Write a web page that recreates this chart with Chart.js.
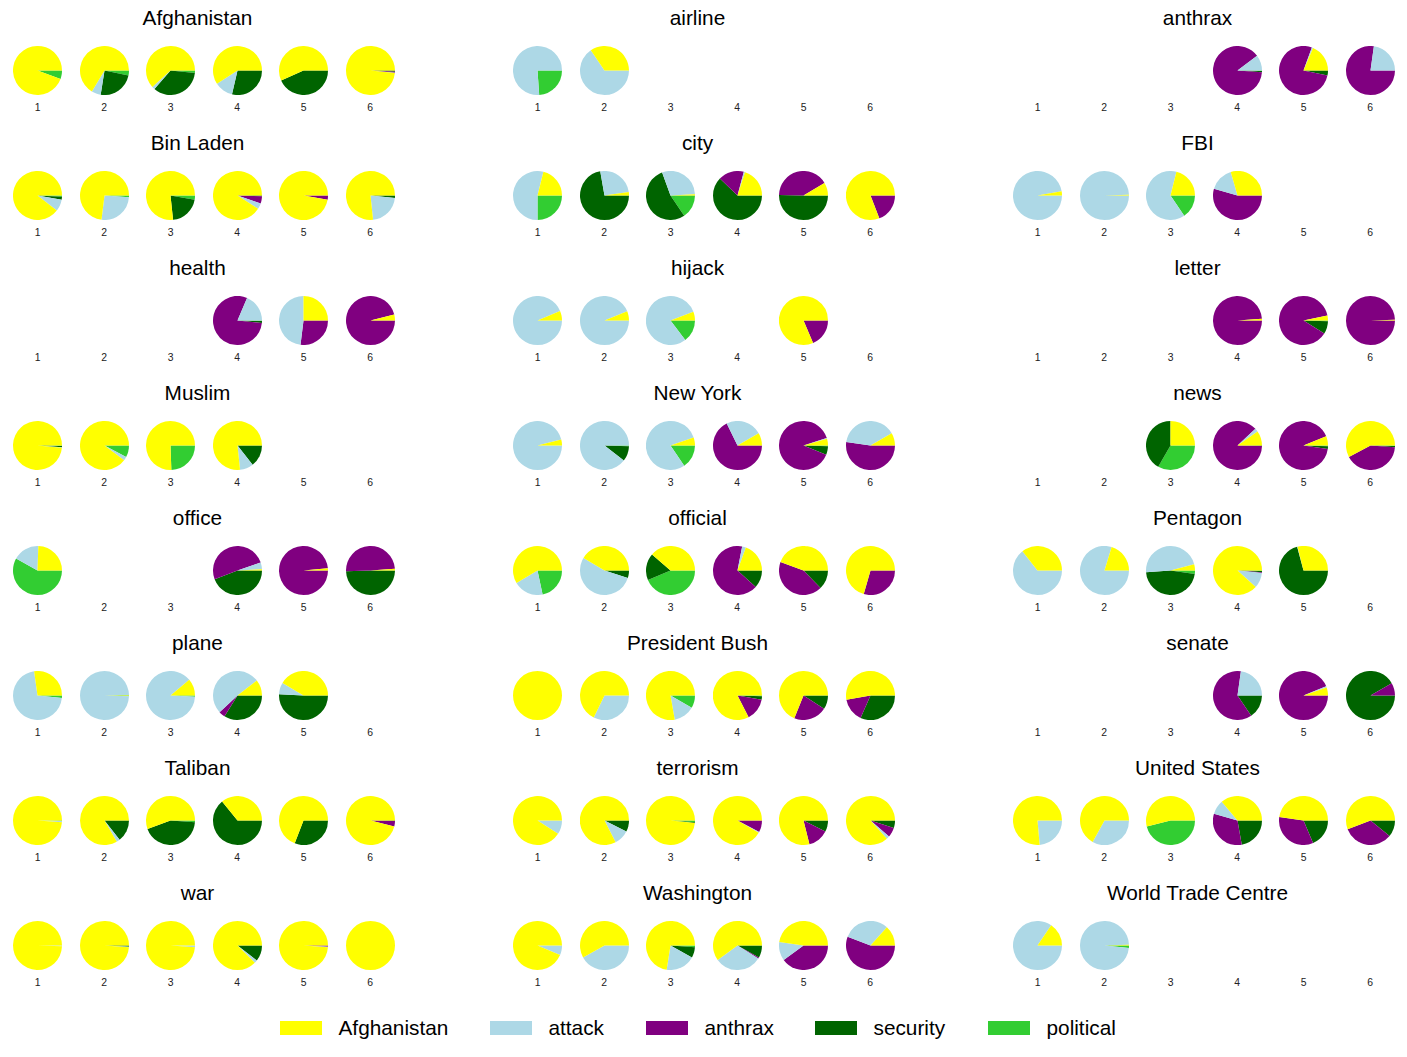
<!DOCTYPE html>
<html>
<head>
<meta charset="utf-8">
<script src="https://cdn.jsdelivr.net/npm/chart.js@4.4.1/dist/chart.umd.min.js"></script>
<style>
  html, body { margin: 0; padding: 0; background: #ffffff; }
  #stage { position: relative; width: 1407px; height: 1057px; overflow: hidden; font-family: Arial, "Liberation Sans", sans-serif; }
  .title { position: absolute; font-size: 20.8px; color: #000; transform: translate(-50%, -50%); white-space: nowrap; line-height: 1; }
  .lbl { position: absolute; font-size: 10.4px; color: #222; transform: translate(-50%, -50%); line-height: 1; }
  .pie { position: absolute; }
  .legend-patch { position: absolute; width: 41.6px; height: 14.6px; }
  .legend-text { position: absolute; font-size: 20.8px; color: #000; line-height: 1; transform: translateY(-50%); white-space: nowrap; }
</style>
</head>
<body>
<div id="stage"></div>
<script>
// ---- categories / colours ----
const categories = ['Afghanistan', 'attack', 'anthrax', 'security', 'political'];
const categoryColors = ['#ffff00', '#add8e6', '#800080', '#006400', '#32cd32'];
const periods = ['1', '2', '3', '4', '5', '6'];
const terms = ['Afghanistan', 'airline', 'anthrax', 'Bin Laden', 'city', 'FBI', 'health', 'hijack', 'letter',
  'Muslim', 'New York', 'news', 'office', 'official', 'Pentagon', 'plane', 'President Bush', 'senate',
  'Taliban', 'terrorism', 'United States', 'war', 'Washington', 'World Trade Centre'];

// ---- shares per period, order [Afghanistan, attack, anthrax, security, political]; null = no pie ----
const afghanistan = [[340,0,0,0,20],[239,22,0,87,12],[222,7,0,125,6],[213,44,0,103,0],[204,0,0,156,0],[354,1,2,3,0]];
const airline = [[0,274,0,0,86],[124,236,0,0,0],null,null,null,null];
const anthrax = [null,null,null,[0,37,319,3,1],[67,3,278,12,0],[0,82,278,0,0]];
const binLaden = [[322,28,0,7,3],[263,93,0,0,4],[276,0,0,74,10],[327,14,17,2,0],[350,0,10,0,0],[276,78,0,6,0]];
const city = [[76,194,0,0,90],[8,92,0,260,0],[3,107,0,194,56],[72,3,61,224,0],[31,0,148,181,0],[291,0,69,0,0]];
const fbi = [[10,350,0,0,0],[2,358,0,0,0],[76,228,0,0,56],[106,58,196,0,0],null,null];
const health = [null,null,null,[0,67,287,5,1],[90,173,97,0,0],[14,0,346,0,0]];
const hijack = [[23,337,0,0,0],[22,338,0,0,0],[21,286,0,0,53],null,[293,0,67,0,0],null];
const letter = [null,null,null,[4,0,356,0,0],[12,0,316,30,2],[2,0,358,0,0]];
const muslim = [[355,1,0,3,1],[323,9,0,0,28],[272,0,0,0,88],[276,32,0,52,0],null,null];
const newYork = [[14,346,0,0,0],[0,322,0,36,2],[19,285,0,0,56],[30,86,244,0,0],[16,2,320,20,2],[30,142,188,0,0]];
const news = [null,null,[90,0,0,150,120],[35,8,316,1,0],[22,0,330,6,2],[208,0,148,3,1]];
const office = [[88,63,0,0,209],null,null,[3,16,182,159,0],[5,0,355,0,0],[4,0,178,178,0]];
const official = [[211,71,0,0,78],[149,193,0,18,0],[139,0,0,64,157],[70,9,239,42,0],[160,0,154,46,0],[254,0,106,0,0]];
const pentagon = [[128,232,0,0,0],[73,287,0,0,0],[15,169,0,168,8],[318,36,2,3,1],[104,1,0,255,0],null];
const plane = [[98,256,0,0,6],[1,357,0,0,2],[40,317,0,0,3],[38,185,15,122,0],[149,28,0,183,0],null];
const presidentBush = [[360,0,0,0,0],[244,116,0,0,0],[280,50,0,0,30],[297,0,53,8,2],[248,0,79,33,0],[190,0,56,114,0]];
const senate = [null,null,null,[0,82,222,56,0],[19,3,338,0,0],[0,0,30,330,0]];
const taliban = [[356,3,0,0,1],[300,8,0,52,0],[200,0,0,156,4],[129,0,0,231,0],[249,0,0,111,0],[346,0,13,1,0]];
const terrorism = [[327,33,0,0,0],[297,36,0,27,0],[354,0,0,2,4],[330,2,28,0,0],[284,0,49,27,0],[312,7,23,18,0]];
const unitedStates = [[275,85,0,0,0],[241,119,0,0,0],[194,0,0,0,166],[130,34,116,80,0],[172,0,121,67,0],[201,0,120,39,0]];
const war = [[358,2,0,0,0],[356,1,0,3,0],[356,4,0,0,0],[315,7,0,38,0],[356,1,3,0,0],[360,0,0,0,0]];
const washington = [[337,23,0,0,0],[209,151,0,0,0],[261,70,0,25,4],[216,112,3,29,0],[172,44,144,0,0],[48,111,201,0,0]];
const worldTradeCentre = [[56,304,0,0,0],[2,352,0,0,6],null,null,null,null];

const termData = [afghanistan, airline, anthrax, binLaden, city, fbi, health, hijack, letter,
  muslim, newYork, news, office, official, pentagon, plane, presidentBush, senate,
  taliban, terrorism, unitedStates, war, washington, worldTradeCentre];

// ---- layout ----
const stage = document.getElementById('stage');
const PIE = 49;
const colX0 = 37.7, pieStep = 66.5, panelStep = 500;
const rowY0 = 70.3, rowStep = 125;

function addDiv(cls, text, x, y) {
  const d = document.createElement('div');
  d.className = cls;
  d.textContent = text;
  d.style.left = x + 'px';
  d.style.top = y + 'px';
  stage.appendChild(d);
  return d;
}

terms.forEach((term, t) => {
  const col = t % 3, row = Math.floor(t / 3);
  const cy = rowY0 + row * rowStep;
  addDiv('title', term, 197.5 + col * panelStep, cy - 52);
  periods.forEach((p, k) => {
    const cx = colX0 + col * panelStep + k * pieStep;
    addDiv('lbl', p, cx, cy + 37.3);
    const vals = termData[t][k];
    if (!vals) return;
    const canvas = document.createElement('canvas');
    canvas.className = 'pie';
    canvas.width = PIE; canvas.height = PIE;
    canvas.style.width = PIE + 'px'; canvas.style.height = PIE + 'px';
    canvas.style.left = Math.round(cx - PIE / 2) + 'px';
    canvas.style.top = Math.round(cy - PIE / 2) + 'px';
    stage.appendChild(canvas);
    // counter-clockwise from 3 o'clock == clockwise from 3 o'clock with reversed order
    new Chart(canvas, {
      type: 'pie',
      data: {
        labels: categories.slice().reverse(),
        datasets: [{
          data: vals.slice().reverse(),
          backgroundColor: categoryColors.slice().reverse(),
          borderWidth: 0
        }]
      },
      options: {
        responsive: false,
        animation: false,
        events: [],
        rotation: 90,
        layout: { padding: 0 },
        plugins: { legend: { display: false }, tooltip: { enabled: false }, title: { display: false } }
      }
    });
  });
});

// ---- legend ----
const legendX = [280, 490, 646, 815, 988];
categories.forEach((c, i) => {
  const patch = document.createElement('div');
  patch.className = 'legend-patch';
  patch.style.left = legendX[i] + 'px';
  patch.style.top = (1028 - 7.3) + 'px';
  patch.style.background = categoryColors[i];
  stage.appendChild(patch);
  addDiv('legend-text', c, legendX[i] + 58.5, 1028);
});
</script>
</body>
</html>
